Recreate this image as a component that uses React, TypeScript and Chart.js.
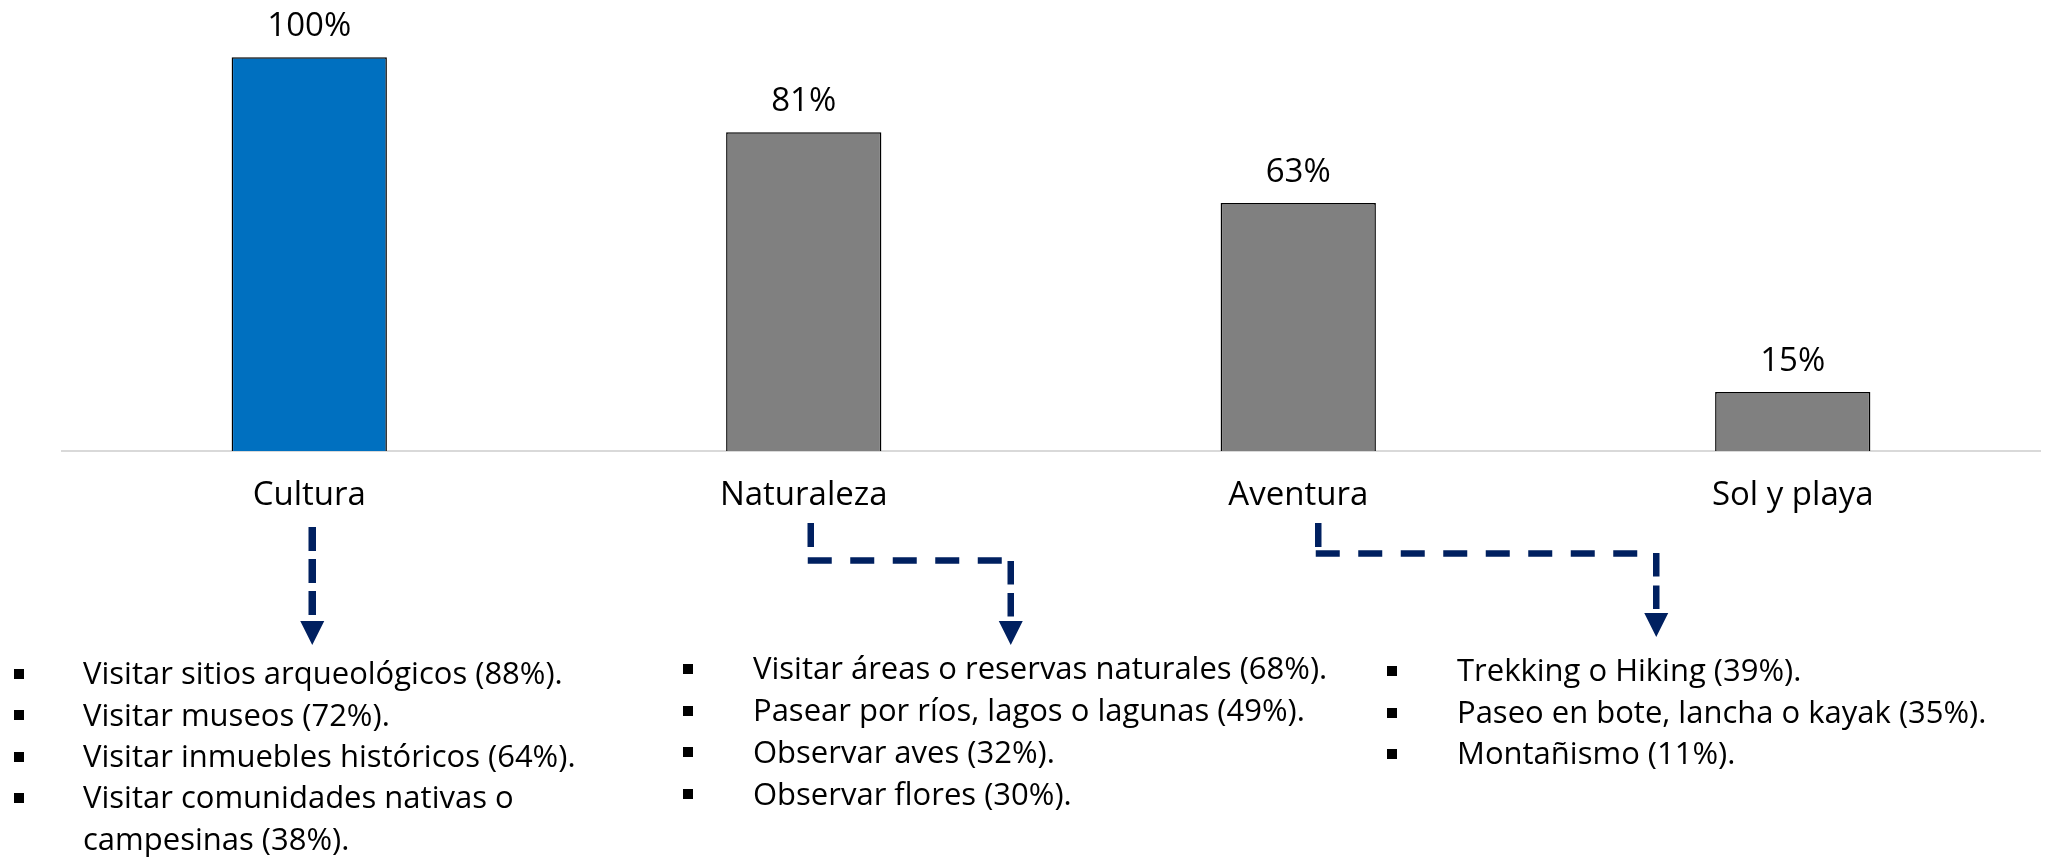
import React, { useEffect, useRef } from "react";
import { Chart, registerables } from "chart.js";

Chart.register(...registerables);

// ---- data ----
const categories = ["Cultura", "Naturaleza", "Aventura", "Sol y playa"];
const shares = [100, 81, 63, 15];
const barColors = ["#0070C0", "#808080", "#808080", "#808080"];

const culturaItems = [
  "Visitar sitios arqueológicos (88%).",
  "Visitar museos (72%).",
  "Visitar inmuebles históricos (64%).",
  "Visitar comunidades nativas o\ncampesinas (38%).",
];
const naturalezaItems = [
  "Visitar áreas o reservas naturales (68%).",
  "Pasear por ríos, lagos o lagunas (49%).",
  "Observar aves (32%).",
  "Observar flores (30%).",
];
const aventuraItems = [
  "Trekking o Hiking (39%).",
  "Paseo en bote, lancha o kayak (35%).",
  "Montañismo (11%).",
];

const FONT = "'Open Sans', sans-serif";
const NAVY = "#002060";
const W = 2045;
const H = 861;

function seg(ctx: CanvasRenderingContext2D, x1: number, y1: number, x2: number, y2: number, dash: number[]) {
  ctx.setLineDash(dash);
  ctx.beginPath();
  ctx.moveTo(x1, y1);
  ctx.lineTo(x2, y2);
  ctx.stroke();
}

function head(ctx: CanvasRenderingContext2D, x: number, yTop: number) {
  ctx.setLineDash([]);
  ctx.beginPath();
  ctx.moveTo(x - 12, yTop);
  ctx.lineTo(x + 12, yTop);
  ctx.lineTo(x, yTop + 24);
  ctx.closePath();
  ctx.fill();
}

const annotationPlugin = {
  id: "annotations",
  afterDatasetsDraw(chart: any) {
    const ctx: CanvasRenderingContext2D = chart.ctx;
    const meta = chart.getDatasetMeta(0);
    ctx.save();
    ctx.fillStyle = "#000";
    ctx.font = `33px ${FONT}`;
    ctx.textAlign = "center";
    ctx.textBaseline = "alphabetic";
    meta.data.forEach((bar: any, i: number) => {
      ctx.fillText(`${shares[i]}%`, bar.x, bar.y - 21);
    });
    ctx.restore();
  },
  afterDraw(chart: any) {
    const ctx: CanvasRenderingContext2D = chart.ctx;
    const xs = chart.scales.x;
    const b = chart.chartArea.bottom;
    ctx.save();
    ctx.strokeStyle = NAVY;
    ctx.fillStyle = NAVY;
    ctx.lineCap = "butt";
    ctx.lineWidth = 7.5;

    // Cultura
    const c0 = xs.getPixelForValue(0);
    seg(ctx, c0 + 3, b + 76, c0 + 3, b + 164, [24, 8]);
    head(ctx, c0 + 3, b + 170);

    // Naturaleza
    ctx.lineWidth = 6.5;
    const c1 = xs.getPixelForValue(1);
    seg(ctx, c1 + 7, b + 72, c1 + 7, b + 96, []);
    seg(ctx, c1 + 4, b + 109.5, c1 + 199, b + 109.5, [24, 18.5]);
    seg(ctx, c1 + 207, b + 110, c1 + 207, b + 166, [23.5, 8.5]);
    head(ctx, c1 + 207, b + 170);

    // Aventura
    const c2 = xs.getPixelForValue(2);
    seg(ctx, c2 + 20, b + 72, c2 + 20, b + 96, []);
    seg(ctx, c2 + 17.5, b + 102.5, c2 + 340, b + 102.5, [24, 18.5]);
    seg(ctx, c2 + 358, b + 102, c2 + 358, b + 158, [23.5, 9]);
    head(ctx, c2 + 358, b + 162);

    ctx.restore();
  },
};

function BulletList(props: { items: string[]; bulletX: number; textX: number; firstBaseline: number; gap: number }) {
  const { items, bulletX, textX, firstBaseline, gap } = props;
  const fs = 31;
  const nodes: any[] = [];
  let line = 0;
  items.forEach((item, i) => {
    const parts = item.split("\n");
    parts.forEach((p, j) => {
      const base = firstBaseline + line * gap;
      if (j === 0) {
        nodes.push(
          <div
            key={`b${i}`}
            style={{ position: "absolute", left: bulletX, top: base - 16, width: 10, height: 10, background: "#000" }}
          />
        );
      }
      nodes.push(
        <div
          key={`t${i}-${j}`}
          style={{
            position: "absolute",
            left: textX,
            top: base - 0.888 * fs,
            fontSize: fs,
            lineHeight: `${fs}px`,
            fontFamily: FONT,
            color: "#000",
            whiteSpace: "nowrap",
          }}
        >
          {p}
        </div>
      );
      line++;
    });
  });
  return <>{nodes}</>;
}

export default function App() {
  const ref = useRef<HTMLCanvasElement | null>(null);

  useEffect(() => {
    if (!ref.current) return;
    const chart = new Chart(ref.current, {
      type: "bar",
      data: {
        labels: categories,
        datasets: [
          {
            data: shares,
            backgroundColor: barColors,
            borderColor: "#000",
            borderWidth: 1.5,
            borderSkipped: "bottom",
            barPercentage: 0.314,
            categoryPercentage: 1,
          },
        ],
      },
      options: {
        animation: false,
        responsive: false,
        maintainAspectRatio: false,
        layout: { padding: { left: 62, right: 5, top: 18, bottom: 330 } },
        plugins: { legend: { display: false }, tooltip: { enabled: false }, title: { display: false } },
        scales: {
          x: {
            grid: { display: false, drawTicks: false },
            border: { display: true, color: "#d9d9d9", width: 2 },
            ticks: { color: "#000", font: { family: FONT, size: 33 }, padding: 25, maxRotation: 0, autoSkip: false },
            afterFit: (scale: any) => {
              scale.height = 80;
            },
          },
          y: {
            display: false,
            min: 0,
            max: 110,
          },
        },
      },
      plugins: [annotationPlugin],
    });
    return () => chart.destroy();
  }, []);

  return (
    <div style={{ position: "absolute", left: 0, top: 0, width: W, height: H, overflow: "hidden", background: "#fff" }}>
      <canvas ref={ref} width={W} height={H} style={{ position: "absolute", left: 0, top: 0, width: W, height: H }} />
      <BulletList items={culturaItems} bulletX={14} textX={83} firstBaseline={685} gap={41.3} />
      <BulletList items={naturalezaItems} bulletX={683} textX={753} firstBaseline={680} gap={41.7} />
      <BulletList items={aventuraItems} bulletX={1387} textX={1457} firstBaseline={682} gap={41.5} />
    </div>
  );
}
